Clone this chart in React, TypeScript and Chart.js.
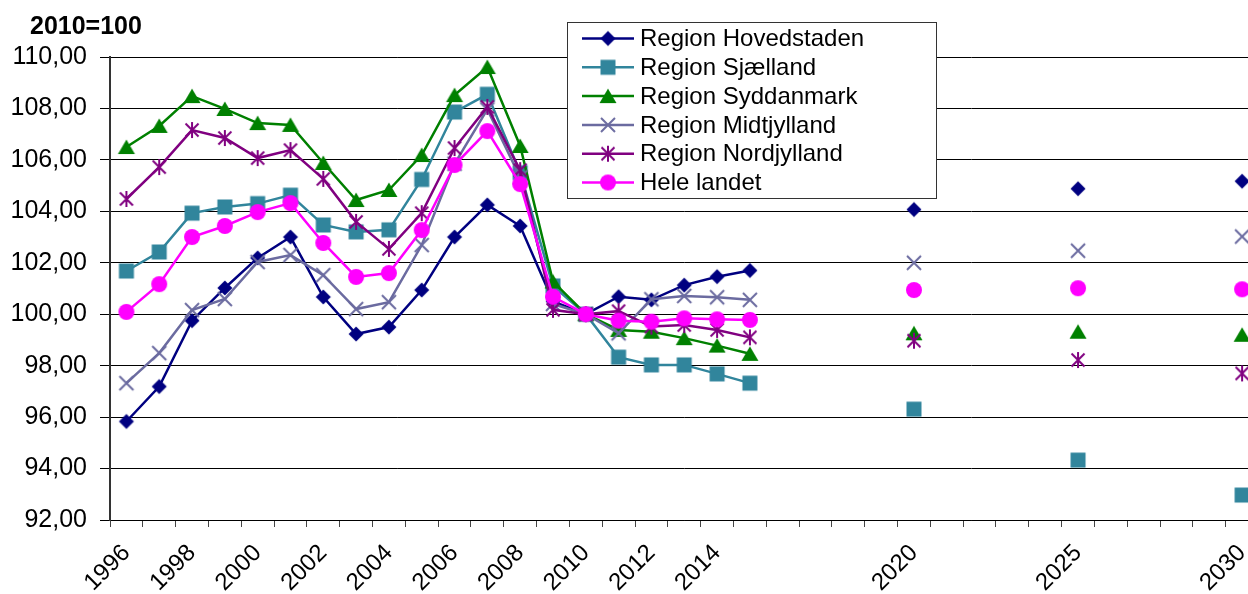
import React, { useEffect, useRef } from 'react';
import { Chart, registerables } from 'chart.js';

Chart.register(...registerables);

// ---------- DATA ----------
const categories = [
  '1996', '1997', '1998', '1999', '2000', '2001', '2002', '2003', '2004', '2005',
  '2006', '2007', '2008', '2009', '2010', '2011', '2012', '2013', '2014', '2015',
  '2016', '2017', '2018', '2019', '2020', '2021', '2022', '2023', '2024', '2025',
  '2026', '2027', '2028', '2029', '2030',
];

const dataYears = [
  '1996', '1997', '1998', '1999', '2000', '2001', '2002', '2003', '2004', '2005',
  '2006', '2007', '2008', '2009', '2010', '2011', '2012', '2013', '2014', '2015',
  '2020', '2025', '2030',
];

const shownTickLabels = [
  '1996', '1998', '2000', '2002', '2004', '2006', '2008', '2010', '2012', '2014',
  '2020', '2025', '2030',
];

const seriesNames = [
  'Region Hovedstaden',
  'Region Sjælland',
  'Region Syddanmark',
  'Region Midtjylland',
  'Region Nordjylland',
  'Hele landet',
];

const hovedstaden = [
  95.83, 97.19, 99.75, 101.02, 102.19, 103.0, 100.67, 99.23, 99.5, 100.94,
  103.0, 104.25, 103.43, 100.5, 100.0, 100.68, 100.56, 101.13, 101.46, 101.7,
  104.07, 104.88, 105.17,
];
const sjaelland = [
  101.68, 102.42, 103.93, 104.17, 104.3, 104.63, 103.47, 103.2, 103.28, 105.24,
  107.86, 108.55, 105.5, 101.1, 100.0, 98.33, 98.03, 98.03, 97.68, 97.32,
  96.31, 94.33, 92.97,
];
const syddanmark = [
  106.5, 107.32, 108.48, 107.98, 107.43, 107.36, 105.88, 104.44, 104.83, 106.19,
  108.52, 109.61, 106.54, 101.27, 100.0, 99.39, 99.32, 99.07, 98.78, 98.46,
  99.26, 99.32, 99.2,
];
const midtjylland = [
  97.32, 98.49, 100.16, 100.59, 102.03, 102.3, 101.52, 100.2, 100.47, 102.69,
  105.85, 107.96, 105.32, 100.4, 100.0, 99.26, 100.58, 100.71, 100.66, 100.56,
  102.0, 102.47, 103.02,
];
const nordjylland = [
  104.48, 105.72, 107.16, 106.85, 106.07, 106.38, 105.26, 103.59, 102.54, 103.93,
  106.46, 108.06, 105.6, 100.17, 100.0, 100.12, 99.52, 99.58, 99.39, 99.1,
  98.97, 98.22, 97.7,
];
const heleLandet = [
  100.09, 101.17, 103.0, 103.43, 103.97, 104.32, 102.77, 101.45, 101.6, 103.27,
  105.8, 107.12, 105.06, 100.68, 100.0, 99.75, 99.71, 99.84, 99.8, 99.78,
  100.94, 101.01, 100.97,
];

const yMin = 92;
const yMax = 110;
const yStep = 2;
const axisTitle = '2010=100';

// ---------- STYLES ----------
const FONT = '"Liberation Sans", Arial, sans-serif';
const colors = ['#000080', '#31859C', '#008000', '#6B6BA0', '#800080', '#FF00FF'];
const markerKinds = ['diamond', 'square', 'triangle', 'x', 'asterisk', 'circle'];

function makeMarker(kind: string, color: string): HTMLCanvasElement {
  const size = 20;
  const c = document.createElement('canvas');
  c.width = size;
  c.height = size;
  const ctx = c.getContext('2d')!;
  const m = size / 2;
  ctx.fillStyle = color;
  ctx.strokeStyle = color;
  ctx.lineWidth = 2;
  ctx.beginPath();
  if (kind === 'diamond') {
    const r = 7.5;
    ctx.moveTo(m, m - r);
    ctx.lineTo(m + r, m);
    ctx.lineTo(m, m + r);
    ctx.lineTo(m - r, m);
    ctx.closePath();
    ctx.fill();
  } else if (kind === 'square') {
    const h = 7.5;
    ctx.rect(m - h, m - h, 2 * h, 2 * h);
    ctx.fill();
  } else if (kind === 'triangle') {
    ctx.moveTo(m, m - 7.5);
    ctx.lineTo(m + 8.5, m + 7);
    ctx.lineTo(m - 8.5, m + 7);
    ctx.closePath();
    ctx.fill();
  } else if (kind === 'x') {
    const r = 7;
    ctx.moveTo(m - r, m - r);
    ctx.lineTo(m + r, m + r);
    ctx.moveTo(m + r, m - r);
    ctx.lineTo(m - r, m + r);
    ctx.stroke();
  } else if (kind === 'asterisk') {
    const r = 6.5;
    ctx.moveTo(m - r, m - r);
    ctx.lineTo(m + r, m + r);
    ctx.moveTo(m + r, m - r);
    ctx.lineTo(m - r, m + r);
    ctx.moveTo(m, m - r - 1.5);
    ctx.lineTo(m, m + r + 1.5);
    ctx.stroke();
  } else {
    ctx.arc(m, m, 8, 0, Math.PI * 2);
    ctx.fill();
  }
  return c;
}

const legendAndTitlePlugin = {
  id: 'customLegendTitle',
  afterDraw(chart: any) {
    const ctx = chart.ctx as CanvasRenderingContext2D;
    ctx.save();
    // title
    ctx.fillStyle = '#000';
    ctx.font = `bold 25px ${FONT}`;
    ctx.textAlign = 'left';
    ctx.textBaseline = 'alphabetic';
    ctx.fillText(axisTitle, 30, 34);

    // legend box
    const bx = 567.5, by = 22.5, bw = 369, bh = 176;
    ctx.fillStyle = '#fff';
    ctx.fillRect(bx, by, bw, bh);
    ctx.strokeStyle = '#333';
    ctx.lineWidth = 1;
    ctx.strokeRect(bx, by, bw, bh);

    ctx.font = `24px ${FONT}`;
    ctx.textBaseline = 'middle';
    chart.data.datasets.forEach((ds: any, i: number) => {
      const y = 38.5 + i * 28.8;
      ctx.strokeStyle = ds.borderColor;
      ctx.lineWidth = 2.5;
      ctx.beginPath();
      ctx.moveTo(582, y);
      ctx.lineTo(634, y);
      ctx.stroke();
      const mk = ds.pointStyle as HTMLCanvasElement;
      ctx.drawImage(mk, 608 - mk.width / 2, y - mk.height / 2);
      ctx.fillStyle = '#000';
      ctx.fillText(ds.label, 640, y + 1);
    });
    ctx.restore();
  },
};

export default function App() {
  const canvasRef = useRef<HTMLCanvasElement | null>(null);

  useEffect(() => {
    if (!canvasRef.current) return;
    const allSeries = [hovedstaden, sjaelland, syddanmark, midtjylland, nordjylland, heleLandet];
    const toCategoryData = (vals: number[]) =>
      categories.map((c) => {
        const i = dataYears.indexOf(c);
        return i >= 0 ? vals[i] : null;
      });

    const datasets = allSeries.map((vals, i) => ({
      label: seriesNames[i],
      data: toCategoryData(vals),
      borderColor: colors[i],
      backgroundColor: colors[i],
      borderWidth: 2.5,
      pointStyle: makeMarker(markerKinds[i], colors[i]),
      pointRadius: 8,
      pointHoverRadius: 8,
      tension: 0,
      spanGaps: false,
      order: seriesNames.length - i,
    }));

    const chart = new Chart(canvasRef.current, {
      type: 'line',
      data: { labels: categories, datasets },
      options: {
        animation: false,
        responsive: true,
        maintainAspectRatio: false,
        events: [],
        layout: { padding: { top: 57, left: 0, right: 4, bottom: 0 } },
        plugins: {
          legend: { display: false },
          tooltip: { enabled: false },
          title: { display: false },
        },
        scales: {
          x: {
            type: 'category',
            offset: true,
            grid: {
              display: true,
              drawOnChartArea: false,
              drawTicks: true,
              tickLength: 7,
              offset: true,
              color: '#444',
              lineWidth: 1,
            },
            border: { display: true, color: '#000', width: 1 },
            ticks: {
              autoSkip: false,
              minRotation: 45,
              maxRotation: 45,
              padding: 12,
              color: '#000',
              font: { family: FONT, size: 24 },
              callback: function (this: any, val: any) {
                const lab = this.getLabelForValue(val);
                return shownTickLabels.includes(lab) ? lab : '';
              },
            },
            afterFit: (s: any) => {
              s.height = 74;
              s.paddingLeft = 0;
              s.paddingRight = 0;
            },
          },
          y: {
            min: yMin,
            max: yMax,
            ticks: {
              stepSize: yStep,
              padding: 13,
              color: '#000',
              font: { family: FONT, size: 25 },
              callback: (v: any) => Number(v).toFixed(2).replace('.', ','),
            },
            grid: { color: '#000', lineWidth: 1, tickLength: 10, drawTicks: true },
            border: { display: true, color: '#333', width: 2 },
            afterFit: (s: any) => {
              s.width = 110;
            },
          },
        },
      },
      plugins: [legendAndTitlePlugin],
    });
    return () => chart.destroy();
  }, []);

  return (
    <div
      style={{
        position: 'fixed',
        left: 0,
        top: 0,
        width: 1248,
        height: 594,
        overflow: 'hidden',
        background: '#fff',
      }}
    >
      <div style={{ position: 'relative', width: 1269, height: 594 }}>
        <canvas ref={canvasRef} />
      </div>
    </div>
  );
}
